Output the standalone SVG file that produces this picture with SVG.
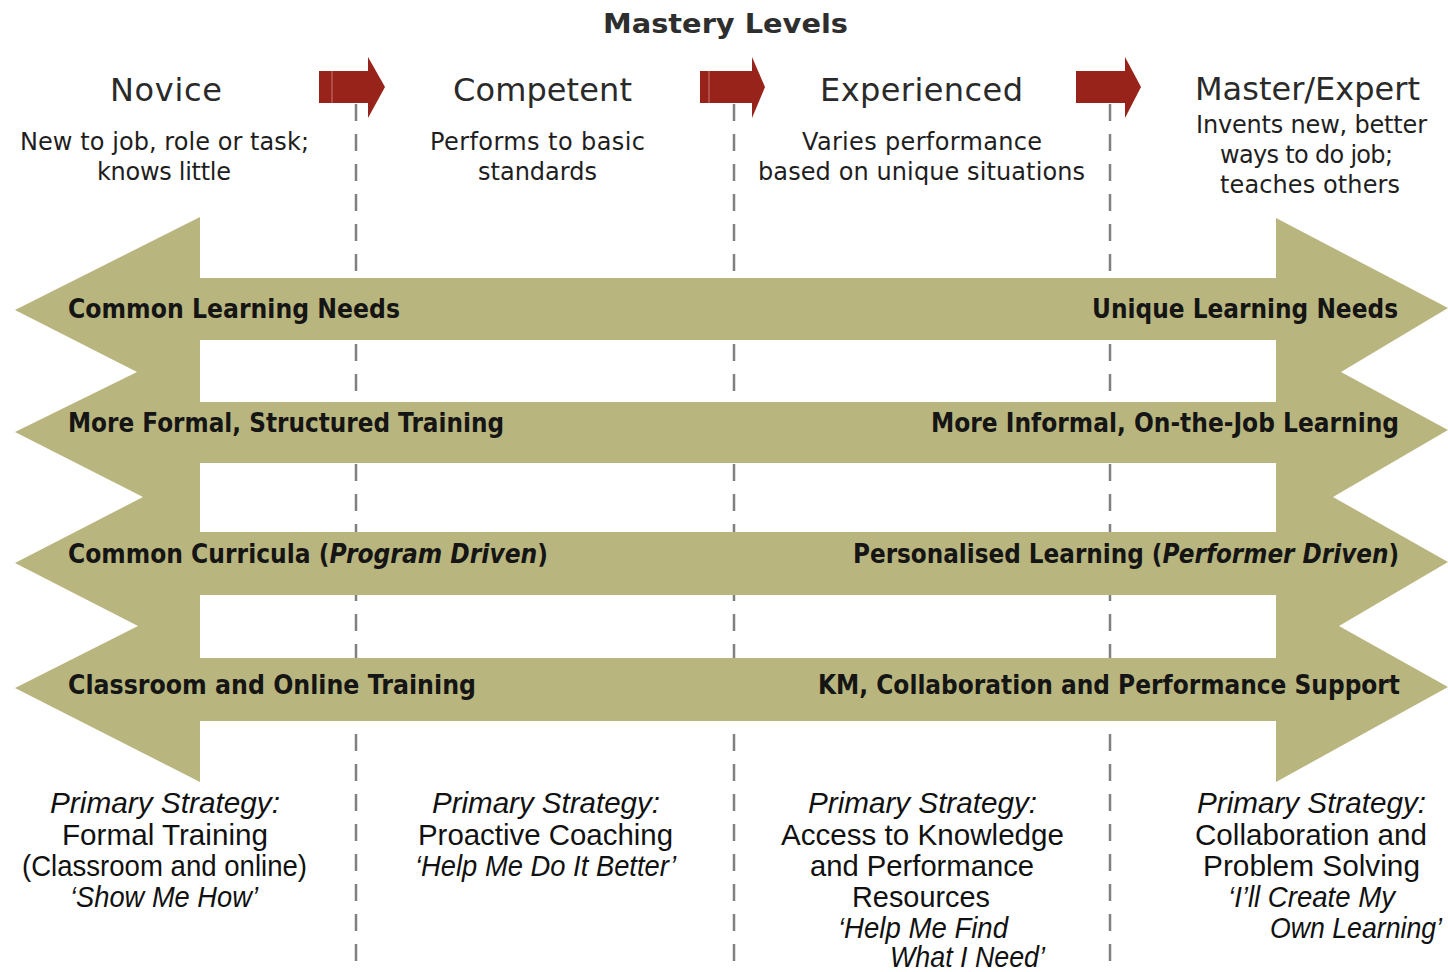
<svg xmlns="http://www.w3.org/2000/svg" width="1448" height="972" viewBox="0 0 1448 972">
<style>
.title{font-family:"DejaVu Sans",Verdana,sans-serif;font-size:27px;font-weight:bold;fill:#2e2e2e}
.lvl{font-family:"DejaVu Sans",Verdana,sans-serif;font-size:32px;fill:#2a2a2a}
.desc{font-family:"DejaVu Sans",Verdana,sans-serif;font-size:24px;fill:#1e1e1e}
.band{font-family:"DejaVu Sans",Verdana,sans-serif;font-size:26px;font-weight:bold;fill:#151515}
.strat{font-family:"Liberation Sans",Arial,sans-serif;font-size:29px;fill:#111}
.it{font-style:italic}
.div{stroke:#808080;stroke-width:2.5;stroke-dasharray:17 13;fill:none}
.red{fill:#98231a}
</style>
<rect width="1448" height="972" fill="#ffffff"/>

<g id="dividers">
<line class="div" x1="356" y1="104" x2="356" y2="972"/>
<line class="div" x1="734" y1="104" x2="734" y2="972"/>
<line class="div" x1="1110" y1="104" x2="1110" y2="972"/>
</g>

<g id="title">
<text class="title" x="603" y="33" textLength="245" lengthAdjust="spacingAndGlyphs">Mastery Levels</text>
</g>

<g id="level-novice">
<text class="lvl" x="110" y="101" textLength="112">Novice</text>
<text class="desc" x="20" y="150" textLength="289">New to job, role or task;</text>
<text class="desc" x="97" y="180" textLength="134">knows little</text>
</g>
<g id="level-competent">
<text class="lvl" x="453" y="101" textLength="179">Competent</text>
<text class="desc" x="430" y="150" textLength="215">Performs to basic</text>
<text class="desc" x="478" y="180" textLength="119">standards</text>
</g>
<g id="level-experienced">
<text class="lvl" x="820" y="101" textLength="203">Experienced</text>
<text class="desc" x="802" y="150" textLength="240">Varies performance</text>
<text class="desc" x="758" y="180" textLength="327">based on unique situations</text>
</g>
<g id="level-master">
<text class="lvl" x="1195" y="100" textLength="225">Master/Expert</text>
<text class="desc" x="1196" y="133" textLength="231">Invents new, better</text>
<text class="desc" x="1220" y="163" textLength="173">ways to do job;</text>
<text class="desc" x="1220" y="193" textLength="180">teaches others</text>
</g>

<g id="connectors">
<g id="arrow-1">
<rect class="red" x="319" y="71" width="50" height="32"/>
<polygon class="red" points="368,57 385,87 368,118"/>
<line x1="332" y1="71" x2="332" y2="103" stroke="#c77a72" stroke-width="1"/>
</g>
<g id="arrow-2">
<rect class="red" x="700" y="71" width="53" height="32"/>
<polygon class="red" points="752,57 765,87 752,118"/>
<line x1="709" y1="71" x2="709" y2="103" stroke="#c77a72" stroke-width="1"/>
</g>
<g id="arrow-3">
<rect class="red" x="1076" y="71" width="50" height="32"/>
<polygon class="red" points="1125,57 1141,87 1125,118"/>
</g>
</g>

<g id="learning-arrows">
<path fill="#b9b57e" fill-rule="evenodd" d="M200,217 L15,310 L137,372 L15,432 L143,497 L15,563 L138,626 L15,688 L200,782 L200,721 L1276,721 L1276,782 L1448,687 L1339,626 L1448,562 L1333,497 L1448,430 L1341,372 L1448,308 L1276,218 L1276,278 L200,278 Z M200,340 L1276,340 L1276,402 L200,402 Z M200,463 L1276,463 L1276,532 L200,532 Z M200,595 L1276,595 L1276,658 L200,658 Z"/>
</g>

<g id="band-1">
<text class="band" x="68" y="318" textLength="332" lengthAdjust="spacingAndGlyphs">Common Learning Needs</text>
<text class="band" x="1092" y="318" textLength="306" lengthAdjust="spacingAndGlyphs">Unique Learning Needs</text>
</g>
<g id="band-2">
<text class="band" x="68" y="432" textLength="436" lengthAdjust="spacingAndGlyphs">More Formal, Structured Training</text>
<text class="band" x="931" y="432" textLength="468" lengthAdjust="spacingAndGlyphs">More Informal, On-the-Job Learning</text>
</g>
<g id="band-3">
<text class="band" x="68" y="563" textLength="480" lengthAdjust="spacingAndGlyphs">Common Curricula (<tspan class="it">Program Driven</tspan>)</text>
<text class="band" x="853" y="563" textLength="546" lengthAdjust="spacingAndGlyphs">Personalised Learning (<tspan class="it">Performer Driven</tspan>)</text>
</g>
<g id="band-4">
<text class="band" x="68" y="694" textLength="408" lengthAdjust="spacingAndGlyphs">Classroom and Online Training</text>
<text class="band" x="818" y="694" textLength="582" lengthAdjust="spacingAndGlyphs">KM, Collaboration and Performance Support</text>
</g>

<g id="strategy-novice">
<text class="strat it" x="50" y="813" textLength="230" lengthAdjust="spacingAndGlyphs">Primary Strategy:</text>
<text class="strat" x="62" y="845" textLength="206" lengthAdjust="spacingAndGlyphs">Formal Training</text>
<text class="strat" x="22" y="876" textLength="285" lengthAdjust="spacingAndGlyphs">(Classroom and online)</text>
<text class="strat it" x="70" y="907" textLength="188" lengthAdjust="spacingAndGlyphs">‘Show Me How’</text>
</g>
<g id="strategy-competent">
<text class="strat it" x="432" y="813" textLength="228" lengthAdjust="spacingAndGlyphs">Primary Strategy:</text>
<text class="strat" x="418" y="845" textLength="255" lengthAdjust="spacingAndGlyphs">Proactive Coaching</text>
<text class="strat it" x="415" y="876" textLength="261" lengthAdjust="spacingAndGlyphs">‘Help Me Do It Better’</text>
</g>
<g id="strategy-experienced">
<text class="strat it" x="808" y="813" textLength="229" lengthAdjust="spacingAndGlyphs">Primary Strategy:</text>
<text class="strat" x="781" y="845" textLength="283" lengthAdjust="spacingAndGlyphs">Access to Knowledge</text>
<text class="strat" x="810" y="876" textLength="224" lengthAdjust="spacingAndGlyphs">and Performance</text>
<text class="strat" x="852" y="907" textLength="138" lengthAdjust="spacingAndGlyphs">Resources</text>
<text class="strat it" x="838" y="938" textLength="170" lengthAdjust="spacingAndGlyphs">‘Help Me Find</text>
<text class="strat it" x="890" y="967" textLength="155" lengthAdjust="spacingAndGlyphs">What I Need’</text>
</g>
<g id="strategy-master">
<text class="strat it" x="1197" y="813" textLength="229" lengthAdjust="spacingAndGlyphs">Primary Strategy:</text>
<text class="strat" x="1195" y="845" textLength="232" lengthAdjust="spacingAndGlyphs">Collaboration and</text>
<text class="strat" x="1203" y="876" textLength="217" lengthAdjust="spacingAndGlyphs">Problem Solving</text>
<text class="strat it" x="1228" y="907" textLength="167" lengthAdjust="spacingAndGlyphs">‘I’ll Create My</text>
<text class="strat it" x="1270" y="938" textLength="172" lengthAdjust="spacingAndGlyphs">Own Learning’</text>
</g>
</svg>
